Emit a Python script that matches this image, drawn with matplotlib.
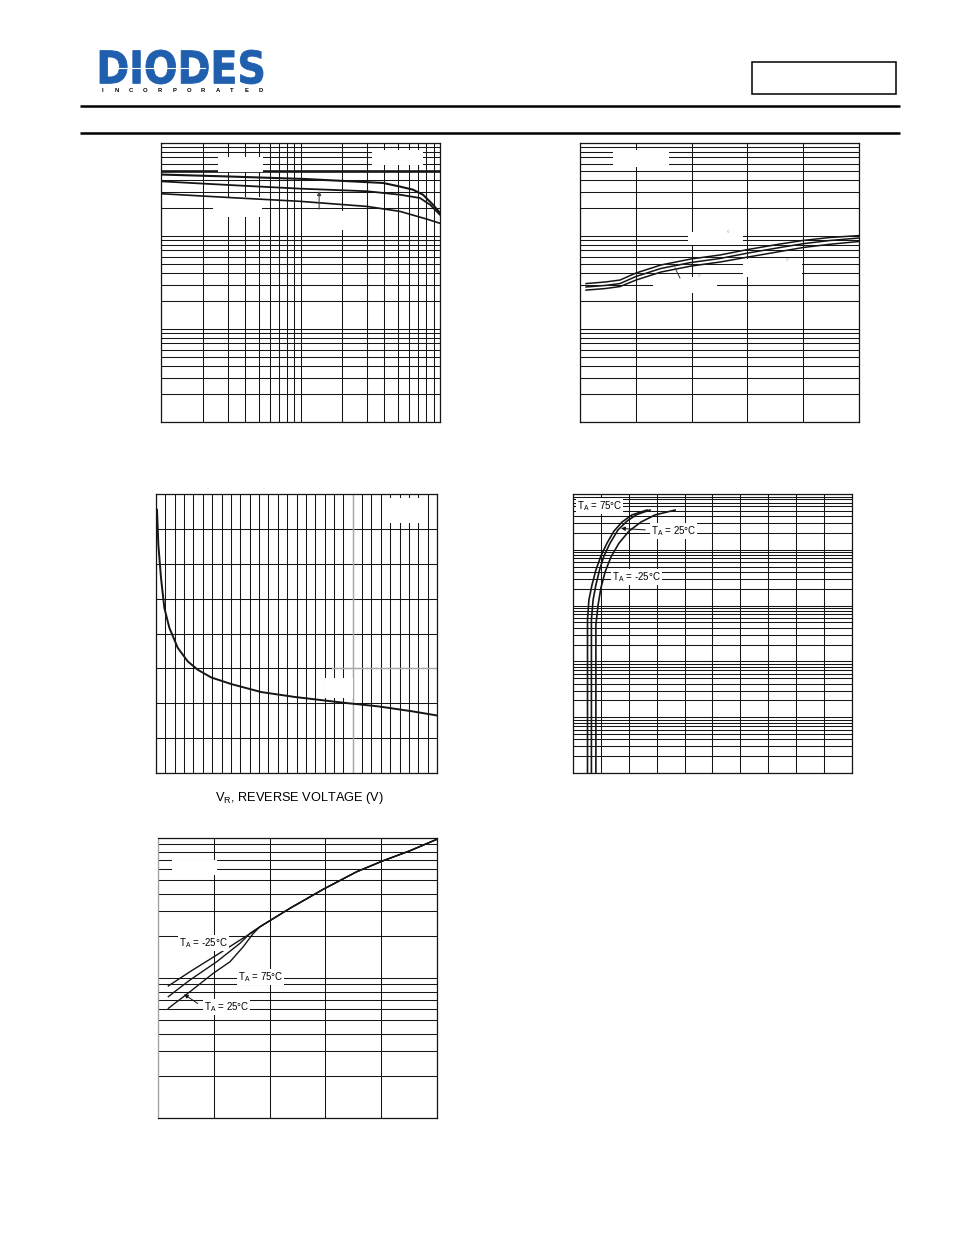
import numpy as np
import matplotlib
matplotlib.use("Agg")
import matplotlib.pyplot as plt
from matplotlib.patches import Rectangle, PathPatch
from matplotlib.textpath import TextPath
from matplotlib.font_manager import FontProperties
from matplotlib.ticker import LogLocator, MultipleLocator
from matplotlib.transforms import Affine2D

plt.rcParams["font.family"] = ["Liberation Sans", "DejaVu Sans"]
plt.rcParams["mathtext.fontset"] = "custom"
plt.rcParams["mathtext.rm"] = "Liberation Sans"

W, H = 954, 1235
INK = "#151515"

# ---- chart 1: log-log, three falling curves
c1_x_a = [1, 3.12, 10.8, 39.0, 51.6, 64.0, 75.5, 89.1, 100]
c1_y_a = [45.8, 43.6, 41.0, 37.2, 34.0, 31.5, 27.8, 21.7, 17.7]
c1_x_b = [1, 3.12, 9.9, 29.9, 51.6, 71.9, 84.8, 100]
c1_y_b = [38.7, 35.3, 32.3, 30.3, 27.8, 25.6, 21.7, 16.9]
c1_x_c = [1, 3.12, 9.9, 29.9, 51.6, 80.4, 100]
c1_y_c = [28.5, 25.9, 23.6, 20.8, 18.4, 15.2, 13.7]
c1_arrow_x = 13.6
c1_arrow_y = [18.2, 32.6]

# ---- chart 2: linear x, log y, three rising curves
c2_x = [0.108, 0.448, 0.717, 1.004, 1.452, 1.989, 2.509, 3.011, 3.584, 3.996, 4.48, 5.0]
c2_y_top = [3.08, 3.20, 3.36, 4.00, 4.88, 5.66, 6.25, 7.16, 8.20, 8.95, 9.64, 10.1]
c2_y_mid = [2.83, 2.94, 3.08, 3.67, 4.48, 5.19, 5.73, 6.56, 7.52, 8.26, 8.95, 9.51]
c2_y_bot = [2.62, 2.72, 2.86, 3.36, 4.10, 4.75, 5.25, 5.94, 6.81, 7.52, 8.15, 8.73]
c2_lead_x = [1.703, 1.792]
c2_lead_y = [4.53, 3.53]

# ---- chart 3: capacitance-like curve vs reverse voltage
c3_x = [0.107, 0.25, 0.536, 0.893, 1.43, 2.32, 3.39, 4.46, 5.89, 8.04, 11.25, 14.82, 20.18, 23.75, 27.32, 30.0]
c3_y = [7.55, 6.55, 5.59, 4.73, 4.16, 3.59, 3.20, 2.96, 2.74, 2.55, 2.32, 2.18, 2.01, 1.91, 1.77, 1.65]

# ---- chart 4: forward curves, three temperatures
c4_x_75 = [0.052, 0.052, 0.057, 0.068, 0.082, 0.100, 0.122, 0.147, 0.176, 0.211, 0.265]
c4_y_75 = [0.001, 0.552, 1.26, 2.34, 4.34, 7.74, 13.2, 21.7, 31.5, 42.1, 51.6]
c4_x_25 = [0.066, 0.066, 0.072, 0.082, 0.095, 0.111, 0.133, 0.161, 0.194, 0.229, 0.276]
c4_y_25 = [0.001, 0.552, 1.26, 2.34, 4.34, 7.74, 13.2, 22.6, 32.8, 43.0, 51.6]
c4_x_m25 = [0.082, 0.082, 0.090, 0.100, 0.115, 0.136, 0.165, 0.201, 0.244, 0.294, 0.366]
c4_y_m25 = [0.001, 0.449, 1.03, 2.07, 4.00, 7.43, 13.2, 21.7, 31.5, 42.1, 51.6]
c4_arrow = [(0.269, 22.6), (0.162, 24.3)]

# ---- chart 5: three curves merging into one
c5_x_m25 = [0.185, 0.573, 1.052, 1.470, 1.708]
c5_y_m25 = [8.77, 11.09, 14.59, 18.66, 21.43]
c5_x_75 = [0.185, 0.573, 1.052, 1.470, 1.649]
c5_y_75 = [7.36, 9.68, 13.06, 17.70, 20.84]
c5_x_25 = [0.185, 0.573, 0.991, 1.290, 1.529, 1.708]
c5_y_25 = [6.07, 7.98, 10.81, 13.06, 16.75, 20.84]
c5_x_common = [1.828, 2.366, 2.962, 3.561, 4.038, 4.516, 5.0]
c5_y_common = [23.23, 31.48, 43.05, 57.41, 68.87, 81.10, 97.95]
c5_arrow = [(0.753, 6.41), (0.425, 7.85)]

fig = plt.figure(figsize=(W / 100, H / 100), dpi=100)

# page layer for header decoration
page = fig.add_axes([0, 0, 1, 1])
page.set_xlim(0, W)
page.set_ylim(H, 0)
page.axis("off")

prop = FontProperties(family="DejaVu Sans", weight="bold")
tp = TextPath((0, 0), "DIODES", size=10, prop=prop)
ext = tp.get_extents()
tr = Affine2D().translate(-ext.x0, -ext.y0).scale(163 / ext.width, -34 / ext.height).translate(100, 84)
page.add_patch(PathPatch(tr.transform_path(tp), fc="#1f5fae", ec="#1f5fae", lw=0.6))
page.plot([108, 205], [68.3, 68.3], color="white", lw=0.8)
for ch, xx in zip("INCORPORATED", np.linspace(102, 261, 12)):
    page.text(xx, 91, ch, fontsize=4.2, fontweight="bold", ha="center", va="center")
page.add_patch(Rectangle((752, 62), 144, 32, fill=False, ec="black", lw=1.1))
page.plot([80, 900], [105.8, 105.8], color="black", lw=1.8, solid_capstyle="butt")
page.plot([80, 900], [132.5, 132.5], color="black", lw=1.8, solid_capstyle="butt")

boxes = {
    1: (161, 143, 440, 422),
    2: (580, 143, 859, 422),
    3: (156, 494, 437, 773),
    4: (573, 494, 852, 773),
    5: (158, 838, 437, 1118),
}


def frac(box, x, y):
    l, t, r, b = box
    return (x - l) / (r - l), (b - y) / (b - t)


def new_ax(n):
    l, t, r, b = boxes[n]
    ax = fig.add_axes([l / W, 1 - b / H, (r - l) / W, (b - t) / H])
    ax.tick_params(which="both", length=0, labelleft=False, labelbottom=False)
    for s in ax.spines.values():
        s.set_linewidth(0.9)
        s.set_color(INK)
    return ax


def log_grid(axis):
    axis.set_major_locator(LogLocator(base=10, numticks=100))
    axis.set_minor_locator(LogLocator(base=10, subs=np.arange(2, 10), numticks=100))


def blank(ax, n, x0, y0, x1, y1):
    fx0, fy1 = frac(boxes[n], x0, y1)
    fx1, fy0 = frac(boxes[n], x1, y0)
    ax.add_patch(Rectangle((fx0, fy1), fx1 - fx0, fy0 - fy1, transform=ax.transAxes,
                           fc="white", ec="none", zorder=1.8))


def label(ax, n, x, y, s, **kw):
    fx, fy = frac(boxes[n], x, y)
    ax.text(fx, fy, s, transform=ax.transAxes, fontsize=7, ha="left", va="center", zorder=3,
            bbox=dict(fc="white", ec="none", pad=0.6), **kw)


TA = r"T$_\mathregular{A}$"

# chart 1
ax1 = new_ax(1)
ax1.set_xscale("log")
ax1.set_yscale("log")
log_grid(ax1.xaxis)
log_grid(ax1.yaxis)
ax1.grid(which="both", color=INK, lw=0.75)
ax1.axhline(50, color=INK, lw=1.9, zorder=1.6)
ax1.plot(c1_x_a, c1_y_a, color=INK, lw=1.5)
ax1.plot(c1_x_b, c1_y_b, color=INK, lw=1.3)
ax1.plot(c1_x_c, c1_y_c, color=INK, lw=1.2)
ax1.annotate("", xy=(c1_arrow_x, c1_arrow_y[1]), xytext=(c1_arrow_x, c1_arrow_y[0]),
             arrowprops=dict(arrowstyle="-|>", color="#444", lw=0.8, mutation_scale=6))
for bx in [(218, 157, 263, 172), (372, 150, 423, 165), (213, 197, 262, 217), (305, 211, 365, 230)]:
    blank(ax1, 1, *bx)
ax1.set_xlim(1, 100)
ax1.set_ylim(0.1, 100)

# chart 2
ax2 = new_ax(2)
ax2.set_yscale("log")
log_grid(ax2.yaxis)
ax2.xaxis.set_major_locator(MultipleLocator(1))
ax2.grid(which="both", color=INK, lw=0.75)
for yy in (c2_y_top, c2_y_mid, c2_y_bot):
    ax2.plot(c2_x, yy, color=INK, lw=1.1)
ax2.plot(c2_lead_x, c2_lead_y, color="#333", lw=0.7)
for bx in [(613, 150, 669, 167), (688, 232, 743, 245), (743, 259, 802, 277), (653, 277, 717, 293)]:
    blank(ax2, 2, *bx)
for px, py in [(727.7, 235), (786.7, 263.3), (699.3, 279.3)]:
    fx, fy = frac(boxes[2], px, py)
    ax2.text(fx, fy, "°", transform=ax2.transAxes, fontsize=5, color="#999",
             ha="center", va="center", zorder=3)
ax2.set_xlim(0, 5)
ax2.set_ylim(0.1, 100)

# chart 3
ax3 = new_ax(3)
ax3.xaxis.set_major_locator(MultipleLocator(1))
ax3.yaxis.set_major_locator(MultipleLocator(1))
ax3.grid(which="major", color=INK, lw=0.75)
ax3.axvline(21, color="#a8a8a8", lw=1.0, zorder=1.6)
ax3.axhline(3, xmin=0.625, xmax=1, color="#a8a8a8", lw=1.0, zorder=1.6)
ax3.plot(c3_x, c3_y, color=INK, lw=1.4)
for bx in [(387, 498, 425, 523), (325, 678, 353, 698)]:
    blank(ax3, 3, *bx)
ax3.set_xlim(0, 30)
ax3.set_ylim(0, 8)
fx, fy = frac(boxes[3], 300, 798)
ax3.text(fx, fy, r"V$_\mathregular{R}$, REVERSE VOLTAGE (V)", transform=ax3.transAxes,
         fontsize=9.2, ha="center", va="center")

# chart 4
ax4 = new_ax(4)
ax4.set_yscale("log")
log_grid(ax4.yaxis)
ax4.xaxis.set_major_locator(MultipleLocator(0.1))
ax4.grid(which="both", color=INK, lw=0.75)
ax4.plot(c4_x_75, c4_y_75, color=INK, lw=1.2)
ax4.plot(c4_x_25, c4_y_25, color=INK, lw=1.2)
ax4.plot(c4_x_m25, c4_y_m25, color=INK, lw=1.2)
ax4.annotate("", xy=c4_arrow[1], xytext=c4_arrow[0],
             arrowprops=dict(arrowstyle="-|>", color=INK, lw=0.7, mutation_scale=6))
label(ax4, 4, 577, 506, TA + " = 75°C")
label(ax4, 4, 651, 531, TA + " = 25°C")
label(ax4, 4, 612, 577, TA + " = -25°C")
ax4.set_xlim(0, 1)
ax4.set_ylim(0.001, 100)

# chart 5
ax5 = new_ax(5)
ax5.set_yscale("log")
log_grid(ax5.yaxis)
ax5.xaxis.set_major_locator(MultipleLocator(1))
ax5.grid(which="both", color=INK, lw=0.75)
ax5.spines["left"].set_color("#a0a0a0")
for xs, ys in [(c5_x_m25, c5_y_m25), (c5_x_75, c5_y_75), (c5_x_25, c5_y_25)]:
    ax5.plot(xs + c5_x_common, ys + c5_y_common, color=INK, lw=1.0)
ax5.annotate("", xy=c5_arrow[1], xytext=c5_arrow[0],
             arrowprops=dict(arrowstyle="-|>", color=INK, lw=0.7, mutation_scale=6))
blank(ax5, 5, 172, 860, 217, 875)
label(ax5, 5, 179, 943, TA + " = -25°C")
label(ax5, 5, 238, 977, TA + " = 75°C")
label(ax5, 5, 204, 1007, TA + " = 25°C")
ax5.set_xlim(0, 5)
ax5.set_ylim(1, 100)

fig.savefig("out.png", dpi=100)
